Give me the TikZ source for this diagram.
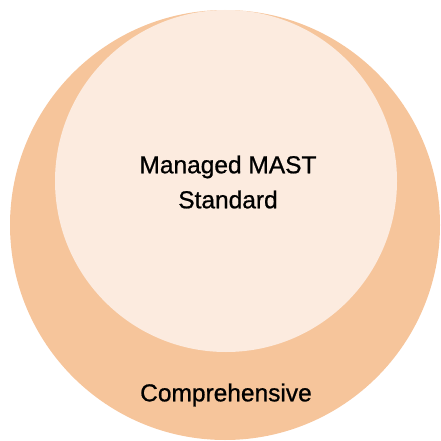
\documentclass[tikz,border=0pt]{standalone}
\usepackage{fontspec}
\setmainfont{Liberation Sans}
\newfontfamily\labelfont[FakeBold=0.8]{Liberation Sans}
\usepackage{tikz}

\definecolor{outerpeach}{RGB}{246,197,155}
\definecolor{innerpeach}{RGB}{252,235,223}

\begin{document}
\begin{tikzpicture}[x=1pt,y=-1pt]
% border
\useasboundingbox (0,0) rectangle (440,441);

% circles
\def\r{215};
\fill[outerpeach] (225,225) circle (\r);
\def\r{171};
\fill[innerpeach] (226,181) circle (\r);

% labels
\node[font=\labelfont\fontsize{24.5}{35}\selectfont, align=center] (standard) at (228,182) {Managed MAST\\Standard};
\node[font=\labelfont\fontsize{24.5}{35}\selectfont] (comprehensive) at (226,395) {Comprehensive};

\end{tikzpicture}
\end{document}
